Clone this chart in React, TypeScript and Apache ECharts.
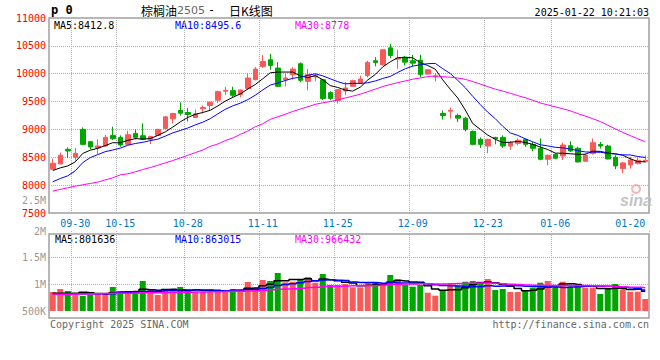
import React, { useEffect, useRef } from "react";
import * as echarts from "echarts";

// ---------- data ----------
const dates = [
  "09-25", "09-26", "09-27", "09-30",
  "10-08", "10-09", "10-10", "10-11", "10-14", "10-15", "10-16", "10-17", "10-18",
  "10-21", "10-22", "10-23", "10-24", "10-25", "10-28", "10-29", "10-30", "10-31",
  "11-01", "11-04", "11-05", "11-06", "11-07", "11-08", "11-11", "11-12", "11-13", "11-14", "11-15",
  "11-18", "11-19", "11-20", "11-21", "11-22", "11-25", "11-26", "11-27", "11-28", "11-29",
  "12-02", "12-03", "12-04", "12-05", "12-06", "12-09", "12-10", "12-11", "12-12", "12-13",
  "12-16", "12-17", "12-18", "12-19", "12-20", "12-23", "12-24", "12-25", "12-26", "12-27",
  "12-30", "12-31", "01-02", "01-03", "01-06", "01-07", "01-08", "01-09", "01-10",
  "01-13", "01-14", "01-15", "01-16", "01-17", "01-20", "01-21", "01-22",
];

const opens = [
  8286, 8381, 8643, 8500, 9000, 8780, 8667, 8702, 8893, 8857,
  8732, 8929, 8887, 8822, 8893, 9018, 9191, 9339, 9304, 9214,
  9369, 9429, 9524, 9685, 9696, 9625, 9732, 9893, 10131, 10250,
  10101, 9893, 9982, 10179, 9863, 9940, 9893, 9661, 9518, 9690,
  9774, 9833, 9970, 10232, 10161, 10464, 10262, 10298, 10232, 10244,
  9994, 9940, 9286, 9327, 9250, 9202, 8964, 8822, 8702, 8857,
  8857, 8702, 8750, 8822, 8732, 8661, 8464, 8554, 8524, 8708,
  8661, 8429, 8566, 8732, 8702, 8500, 8298, 8363, 8387, 8423,
];
const closes = [
  8393, 8536, 8613, 8571, 8732, 8685, 8702, 8857, 8833, 8720,
  8905, 8857, 8822, 8875, 9000, 9226, 9286, 9292, 9268, 9280,
  9393, 9488, 9679, 9702, 9613, 9708, 9923, 10083, 10220, 10149,
  9774, 9923, 10083, 9881, 9982, 9964, 9554, 9554, 9714, 9744,
  9875, 9905, 10202, 10202, 10429, 10327, 10280, 10208, 10190, 9988,
  10071, 9952, 9250, 9345, 9202, 9000, 8732, 8732, 8822, 8833,
  8702, 8762, 8804, 8732, 8661, 8464, 8536, 8482, 8720, 8613,
  8417, 8536, 8762, 8702, 8470, 8345, 8399, 8452, 8446, 8446,
];
const lows = [
  8274, 8375, 8488, 8435, 8714, 8643, 8560, 8691, 8810, 8691,
  8726, 8822, 8810, 8738, 8881, 9012, 9107, 9250, 9143, 9202,
  9286, 9333, 9476, 9619, 9566, 9577, 9714, 9881, 10101, 10071,
  9762, 9774, 9893, 9845, 9702, 9863, 9524, 9524, 9464, 9613,
  9762, 9821, 9935, 10131, 10143, 10280, 10089, 10149, 10131, 9940,
  9982, 9863, 9179, 9196, 9131, 8964, 8714, 8667, 8571, 8732,
  8667, 8631, 8714, 8685, 8607, 8446, 8357, 8464, 8452, 8595,
  8405, 8417, 8548, 8655, 8464, 8286, 8214, 8298, 8375, 8405,
];
const highs = [
  8476, 8583, 8679, 8667, 9036, 8792, 8822, 8905, 9048, 8893,
  8976, 9000, 9107, 8881, 9012, 9238, 9298, 9488, 9381, 9357,
  9429, 9500, 9696, 9762, 9768, 9714, 10000, 10119, 10339, 10357,
  10208, 10012, 10119, 10202, 10083, 10012, 9905, 9685, 9726, 9851,
  9893, 9964, 10232, 10298, 10446, 10536, 10429, 10321, 10339, 10339,
  10083, 10012, 9339, 9393, 9286, 9226, 8982, 8857, 8833, 8869,
  8893, 8792, 8839, 8833, 8774, 8839, 8548, 8571, 8762, 8786,
  8691, 8571, 8839, 8774, 8726, 8536, 8417, 8500, 8494, 8536,
];
const volumes = [
  788000, 913000, 830000, 735000, 623000, 677000, 747000, 760000, 996000, 747000,
  747000, 788000, 1245000, 872000, 664000, 913000, 830000, 996000, 872000, 788000,
  788000, 788000, 913000, 830000, 913000, 872000, 1204000, 955000, 1287000, 1245000,
  1577000, 1191000, 1216000, 1287000, 1411000, 1175000, 1536000, 1079000, 1079000, 1121000,
  984000, 984000, 1175000, 1216000, 1121000, 1494000, 1328000, 1079000, 1009000, 1079000,
  760000, 635000, 830000, 1121000, 1038000, 1216000, 1245000, 1216000, 1328000, 872000,
  913000, 788000, 788000, 830000, 967000, 1175000, 1245000, 1009000, 1216000, 1009000,
  1038000, 967000, 967000, 706000, 942000, 1121000, 872000, 801000, 801000, 498000,
];

// moving-average values before enough history exists
const ma5Head = [8262, 8310, 8345, 8417];
const ma10Head = [8060, 8119, 8167, 8256, 8405, 8494, 8548, 8601, 8631];
const ma30Head = [
  7893, 7923, 7952, 7982, 8006, 8030, 8054, 8095, 8131, 8185,
  8203, 8238, 8280, 8316, 8357, 8399, 8441, 8488, 8536, 8583,
  8631, 8697, 8738, 8798, 8845, 8911, 8970, 9048, 9101,
];
const volMa5Head = [733000, 733000, 733000, 733000];
const volMa10Head = [719000, 719000, 719000, 719000, 719000, 720000, 720000, 721000, 721000];
const volMa30Head = [
  692000, 692000, 698000, 706000, 706000, 712000, 719000, 726000, 733000, 733000,
  740000, 747000, 754000, 761000, 761000, 768000, 775000, 775000, 782000, 789000,
  789000, 795000, 802000, 809000, 816000, 823000, 830000, 844000, 858000,
];

const xTickDates = ["09-30", "10-15", "10-28", "11-11", "11-25", "12-09", "12-23", "01-06", "01-20"];
const xGridDates = ["09-30", "10-15", "10-28", "11-11", "11-25", "12-09", "12-23", "01-06"];
const priceMin = 7500;
const priceMax = 11000;
const priceStep = 500;
const volTickValues = [500000, 1000000, 1500000, 2000000];
const volTickTexts = ["500K", "1M", "1.5M", "2M"];
const volOverflowText = "2.5M";
const volAxisMax = 3320000;

const titleName = "棕榈油";
const titleCode = "2505";
const titleSuffix = "日K线图";
const stampText = "2025-01-22 10:21:03";
const maLabels = ["MA5:8412.8", "MA10:8495.6", "MA30:8778"];
const volMaLabels = ["MA5:801636", "MA10:863015", "MA30:966432"];
const copyrightText = "Copyright 2025 SINA.COM";
const urlText = "http://finance.sina.com.cn";

// ---------- style ----------
const RED = "#f85a5a";
const GREEN = "#00a600";
const MA_COLORS = ["#000000", "#0000ff", "#ff00ff"];
const MONO = "DejaVu Sans Mono";
const GRID_LINE = "#b0b0b0";
const FRAME = "#a0a0a0";

function sma(vals: number[], n: number, head: number[], digits: number) {
  return vals.map((_, i) => {
    if (i < n - 1) return head[i];
    let s = 0;
    for (let k = i - n + 1; k <= i; k++) s += vals[k];
    return +(s / n).toFixed(digits);
  });
}

export default function App() {
  const ref = useRef<HTMLDivElement>(null);

  useEffect(() => {
    if (!ref.current) return;
    const chart = echarts.init(ref.current, undefined, { renderer: "svg" });

    const ma = [sma(closes, 5, ma5Head, 1), sma(closes, 10, ma10Head, 1), sma(closes, 30, ma30Head, 1)];
    const vma = [sma(volumes, 5, volMa5Head, 0), sma(volumes, 10, volMa10Head, 0), sma(volumes, 30, volMa30Head, 0)];

    const tickSet = new Set(xTickDates);
    const gridSet = new Set(xGridDates);

    const labelText = (text: string, x: number, y: number, fill: string, align = "left", font = `10px ${MONO}`) => ({
      type: "text",
      x,
      y,
      silent: true,
      style: { text, fill, font, textAlign: align, textVerticalAlign: "middle" },
    });

    const splitX = {
      show: true,
      interval: (_i: number, v: string) => gridSet.has(v),
      lineStyle: { type: "dotted", color: GRID_LINE, width: 1 },
    };

    chart.setOption({
      animation: false,
      grid: [
        { left: 49, top: 18, width: 600, height: 195, show: true, borderColor: FRAME, borderWidth: 1.5 },
        { left: 49, top: 231, width: 600, height: 80, show: false },
      ],
      xAxis: [
        {
          type: "category",
          gridIndex: 0,
          data: dates,
          boundaryGap: true,
          axisLine: { show: false },
          axisTick: { show: false },
          axisLabel: {
            interval: (_i: number, v: string) => tickSet.has(v),
            color: "#0078c8",
            fontFamily: MONO,
            fontSize: 10,
            margin: 5,
          },
          splitLine: splitX,
        },
        {
          type: "category",
          gridIndex: 1,
          data: dates,
          boundaryGap: true,
          axisLine: { show: false },
          axisTick: { show: false },
          axisLabel: { show: false },
          splitLine: splitX,
        },
      ],
      yAxis: [
        {
          type: "value",
          gridIndex: 0,
          min: priceMin,
          max: priceMax,
          interval: priceStep,
          axisLine: { show: false },
          axisTick: { show: false },
          axisLabel: {
            color: "#ff0000",
            fontFamily: MONO,
            fontSize: 10,
            margin: 3,
            formatter: (v: number) => String(v),
          },
          splitLine: {
            show: true,
            showMinLine: false,
            showMaxLine: false,
            lineStyle: { type: "dotted", color: GRID_LINE },
          },
        },
        {
          type: "value",
          gridIndex: 1,
          min: 0,
          max: volAxisMax,
          show: false,
          position: "left",
        },
        {
          type: "value",
          gridIndex: 1,
          position: "left",
          min: volTickValues[0],
          max: volTickValues[volTickValues.length - 1],
          interval: volTickValues[1] - volTickValues[0],
          axisLine: { show: false },
          axisTick: { show: false },
          axisLabel: {
            color: "#999999",
            fontFamily: MONO,
            fontSize: 10,
            margin: 3,
            formatter: (v: number) => volTickTexts[volTickValues.indexOf(v)] ?? "",
          },
          splitLine: {
            show: true,
            showMinLine: false,
            showMaxLine: false,
            lineStyle: { type: "dotted", color: GRID_LINE },
          },
        },
      ],
      series: [
        {
          type: "candlestick",
          xAxisIndex: 0,
          yAxisIndex: 0,
          barWidth: 5,
          data: dates.map((_, i) => [opens[i], closes[i], lows[i], highs[i]]),
          itemStyle: { color: RED, color0: GREEN, borderColor: RED, borderColor0: GREEN, borderWidth: 1 },
        },
        ...ma.map((d, k) => ({
          type: "line",
          xAxisIndex: 0,
          yAxisIndex: 0,
          data: d,
          symbol: "none",
          lineStyle: { color: MA_COLORS[k], width: 1 },
          z: 3,
        })),
        {
          type: "bar",
          xAxisIndex: 1,
          yAxisIndex: 1,
          barWidth: 6,
          data: volumes.map((v, i) => ({
            value: v,
            itemStyle: { color: closes[i] >= opens[i] ? RED : GREEN },
          })),
        },
        ...vma.map((d, k) => ({
          type: "line",
          xAxisIndex: 1,
          yAxisIndex: 1,
          data: d,
          symbol: "none",
          step: "middle",
          lineStyle: { color: MA_COLORS[k], width: 1.5 },
          z: 3,
        })),
      ],
      graphic: [
        {
          type: "rect",
          silent: true,
          shape: { x: 49, y: 234, width: 600, height: 84 },
          style: { fill: "none", stroke: FRAME, lineWidth: 1.5 },
        },
        labelText("p 0", 51, 10, "#000", "left", `bold 12px ${MONO}`),
        labelText(titleName, 141, 10, "#000", "left", `12px "Noto Sans CJK SC"`),
        labelText(titleCode, 177, 10, "#666", "left", `11px "DejaVu Sans"`),
        labelText("-", 208, 10, "#000", "left", `12px ${MONO}`),
        labelText(titleSuffix, 229, 10, "#000", "left", `12px "Noto Sans CJK SC"`),
        labelText(stampText, 649, 12, "#000", "right"),
        labelText(maLabels[0], 54, 25, MA_COLORS[0]),
        labelText(maLabels[1], 175, 25, MA_COLORS[1]),
        labelText(maLabels[2], 295, 25, MA_COLORS[2]),
        labelText(volMaLabels[0], 55, 239, MA_COLORS[0]),
        labelText(volMaLabels[1], 175, 239, MA_COLORS[1]),
        labelText(volMaLabels[2], 295, 239, MA_COLORS[2]),
        labelText(volOverflowText, 46, 200, "#999999", "right"),
        labelText(copyrightText, 50, 324, "#666666", "left"),
        labelText(urlText, 649, 324, "#666666", "right"),
        {
          type: "circle",
          silent: true,
          shape: { cx: 636, cy: 189, r: 4 },
          style: { fill: "none", stroke: "#f3b5b5", lineWidth: 2 },
        },
        labelText("sina", 620, 200, "#c4c4c4", "left", `italic bold 16px "Liberation Sans"`),
      ],
    });

    return () => chart.dispose();
  }, []);

  return (
    <div
      ref={ref}
      style={{ position: "fixed", left: 0, top: 0, width: 660, height: 360, background: "#fff" }}
    />
  );
}
